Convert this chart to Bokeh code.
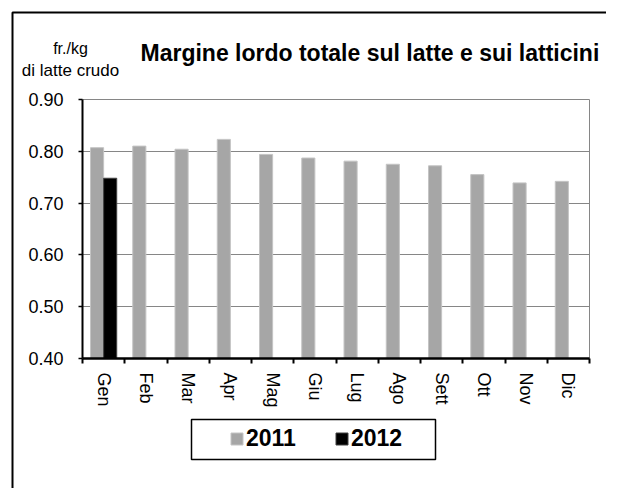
from bokeh.plotting import figure
from bokeh.models import (FixedTicker, NumeralTickFormatter, Legend, LegendItem,
                          Label, BoxAnnotation, Range1d, ColumnDataSource, LinearAxis, Grid)
from bokeh.transform import dodge
from bokeh.embed import file_html
from bokeh.resources import INLINE

# ---- data ----
months = ["Gen", "Feb", "Mar", "Apr", "Mag", "Giu", "Lug", "Ago", "Sett", "Ott", "Nov", "Dic"]
values_2011 = [0.807, 0.810, 0.804, 0.823, 0.794, 0.787, 0.781, 0.775, 0.772, 0.755, 0.739, 0.742]
values_2012 = [0.748]
y_ticks = [0.40, 0.50, 0.60, 0.70, 0.80, 0.90]
series_names = ["2011", "2012"]
title_text = "Margine lordo totale sul latte e sui latticini"
unit_line1 = "fr./kg"
unit_line2 = "di latte crudo"

FONT = "Liberation Sans"
COL_2011, EDGE_2011 = "#A6A6A6", "#C4C4C4"
COL_2012, EDGE_2012 = "#000000", "#404040"

# ---- canvas geometry (pixels) ----
WC, HC = 606, 488
CL, CR, CT, CB = 82, 589, 99, 358          # chart area inside the canvas
x0, x1 = 0.5, len(months) + 0.5
y0, y1 = y_ticks[0], y_ticks[-1]
sx = (CR - CL) / (x1 - x0)
sy = (CB - CT) / (y1 - y0)


def X(px):
    return x0 + (px - CL) / sx


def Y(py):
    return y1 - (py - CT) / sy


p = figure(width=WC, height=HC, output_backend="svg", toolbar_location=None,
           x_range=Range1d(X(0), X(WC)), y_range=Range1d(Y(HC), Y(0)),
           x_axis_type=None, y_axis_type=None, min_border=0,
           min_border_left=0, min_border_right=0, min_border_top=0, min_border_bottom=0)
p.outline_line_color = None
p.background_fill_color = "white"
p.border_fill_color = "white"

pos = list(range(1, len(months) + 1))
src11 = ColumnDataSource(dict(x=pos, top=values_2011))
src12 = ColumnDataSource(dict(x=pos[:len(values_2012)], top=values_2012))

# grid lines (horizontal) and right border of the plot area
p.add_layout(Grid(dimension=1, ticker=FixedTicker(ticks=y_ticks), cross_bounds=(x0, x1),
                  grid_line_color="#868686", grid_line_width=1))
p.add_layout(Grid(dimension=0, ticker=FixedTicker(ticks=[x1]), cross_bounds=(y0, y1),
                  grid_line_color="#868686", grid_line_width=1))

bw = 0.31
r1 = p.vbar(x=dodge("x", -bw / 2, range=p.x_range), top="top", bottom=y0, width=bw, source=src11,
            fill_color=COL_2011, line_color=EDGE_2011, line_width=1)
r2 = p.vbar(x=dodge("x", bw / 2, range=p.x_range), top="top", bottom=y0, width=bw, source=src12,
            fill_color=COL_2012, line_color=EDGE_2012, line_width=1)

xaxis = LinearAxis(ticker=FixedTicker(ticks=pos, minor_ticks=[i + 0.5 for i in range(len(months) + 1)]),
                   fixed_location=y0, bounds=(x0, x1))
xaxis.major_label_overrides = {i: m for i, m in zip(pos, months)}
xaxis.major_label_orientation = "vertical"
xaxis.major_tick_out = 0
xaxis.major_tick_in = 0
xaxis.major_tick_line_color = None
xaxis.minor_tick_out = 5
xaxis.minor_tick_in = 0
xaxis.minor_tick_line_color = "black"
xaxis.minor_tick_line_width = 2
xaxis.axis_line_color = "black"
xaxis.axis_line_width = 2.5
xaxis.major_label_standoff = 9
xaxis.major_label_text_font = FONT
xaxis.major_label_text_font_size = "18px"
xaxis.major_label_text_color = "black"
p.add_layout(xaxis, "below")

yaxis = LinearAxis(ticker=FixedTicker(ticks=y_ticks), formatter=NumeralTickFormatter(format="0.00"),
                   fixed_location=x0, bounds=(y0, y1))
yaxis.major_tick_out = 4
yaxis.major_tick_in = 0
yaxis.major_tick_line_color = "black"
yaxis.major_tick_line_width = 1.5
yaxis.minor_tick_line_color = None
yaxis.axis_line_color = "black"
yaxis.axis_line_width = 2
yaxis.major_label_standoff = 15
yaxis.major_label_text_font = FONT
yaxis.major_label_text_font_size = "18px"
yaxis.major_label_text_color = "black"
p.add_layout(yaxis, "left")

# titles
p.add_layout(Label(x=X(140), y=Y(52), text=title_text, text_font=FONT, text_font_size="23px",
                   text_font_style="bold", text_color="black", text_align="left",
                   text_baseline="alphabetic"))
p.add_layout(Label(x=X(70), y=Y(48), text=unit_line1, text_font=FONT, text_font_size="16px",
                   text_color="black", text_align="center", text_baseline="alphabetic"))
p.add_layout(Label(x=X(70), y=Y(70), text=unit_line2, text_font=FONT, text_font_size="17px",
                   text_color="black", text_align="center", text_baseline="alphabetic"))

# outer chart border (only top and left edges fall inside the picture)
p.add_layout(BoxAnnotation(left=X(12), top=Y(12), right=X(WC + 40), bottom=Y(HC + 40),
                           fill_alpha=0, line_color="black", line_width=2, line_alpha=1))

# legend box and legend
p.add_layout(BoxAnnotation(left=X(191), right=X(435), top=Y(419), bottom=Y(459),
                           fill_alpha=0, line_color="black", line_width=1.5, line_alpha=1))
legend = Legend(items=[LegendItem(label=series_names[0], renderers=[r1]),
                       LegendItem(label=series_names[1], renderers=[r2])],
                orientation="horizontal", location=(229, HC - 439 - 13),
                border_line_alpha=0, background_fill_alpha=0, padding=0, margin=0,
                spacing=38, glyph_width=15, glyph_height=15, label_standoff=2,
                label_text_font=FONT, label_text_font_size="23px",
                label_text_font_style="bold", label_text_color="black")
p.add_layout(legend, "center")

open("out.html", "w").write(file_html(p, INLINE))
